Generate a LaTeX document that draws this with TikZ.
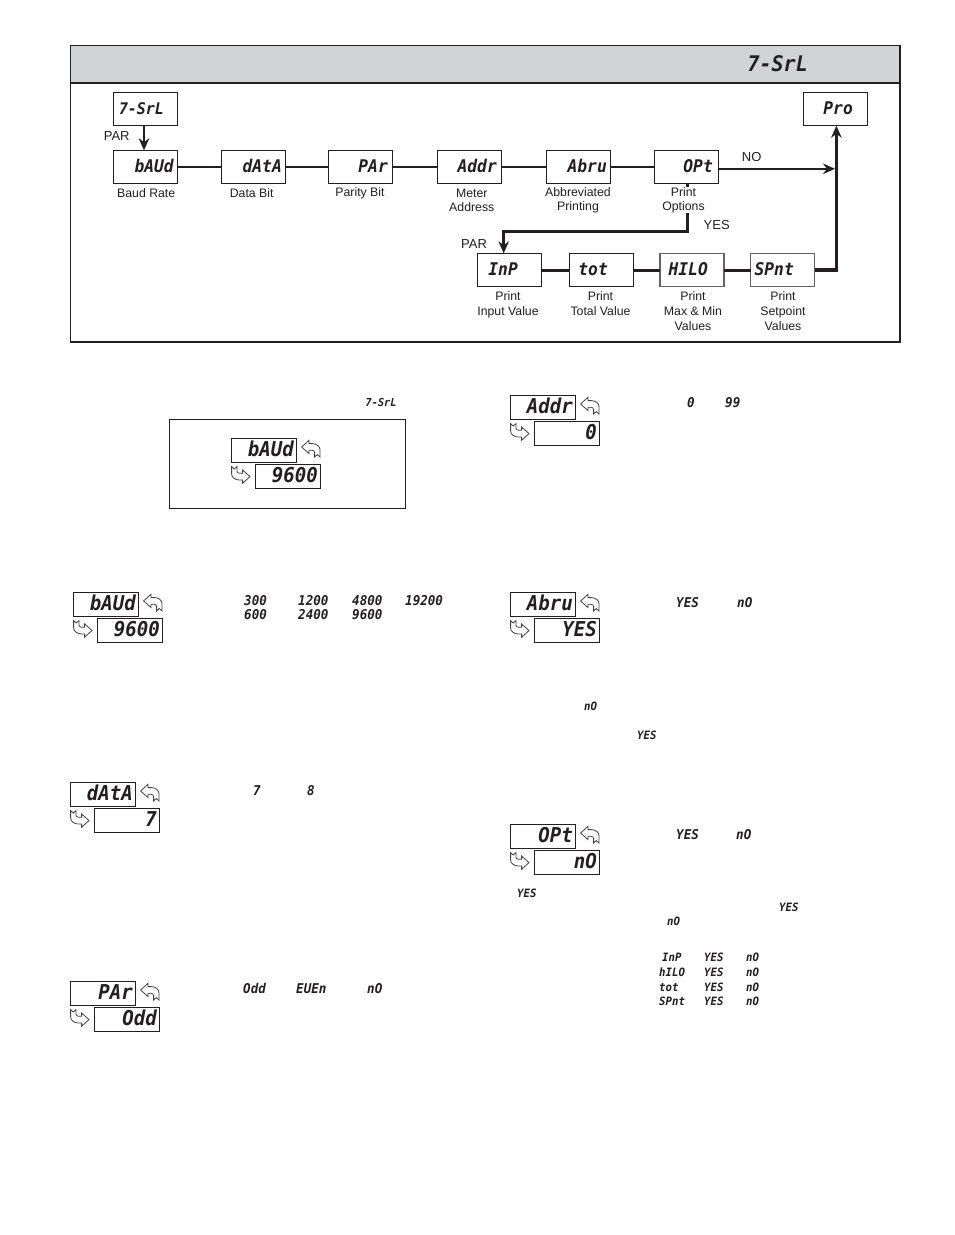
\documentclass[tikz,border=0pt]{standalone}
\usepackage{fontspec}
\setmainfont{Liberation Sans}
\newfontfamily\segbase[FakeStretch=0.93]{DejaVu Sans Mono}
\newcommand{\segfont}{\segbase\bfseries\itshape}
\usetikzlibrary{arrows.meta,calc}
\definecolor{hdr}{HTML}{D1D3D4}
\definecolor{ink}{HTML}{231F20}
\tikzset{
  flowbox/.style={draw=ink,line width=1pt,inner sep=0,outer sep=0,minimum width=64,minimum height=33.4,anchor=north west},
  flowgray/.style={flowbox,draw=ink!70,line width=1.2pt},
  dbox/.style={draw=ink,line width=1pt,inner sep=0,outer sep=0,minimum width=65.4,minimum height=24.3,anchor=north west},
  seghuge/.style={inner sep=0,text=ink,font=\fontsize{21.5}{21.5}\segfont},
  segbig/.style={inner sep=0,text=ink,anchor=base east,font=\fontsize{20.5}{20.5}\segfont},
  segflow/.style={inner sep=0,text=ink,anchor=base east,font=\fontsize{17.5}{17.5}\segfont},
  segmid/.style={inner sep=0,text=ink,anchor=base west,font=\fontsize{13.5}{13.5}\segfont},
  segsm/.style={inner sep=0,text=ink,anchor=base west,font=\fontsize{11.5}{11.5}\segfont},
  lbl/.style={inner sep=0.5,fill=white,text=ink,align=center,font=\fontsize{12.3}{14.3}\selectfont},
  lblb/.style={inner sep=0.5,text=ink,align=center,font=\fontsize{12.3}{15}\selectfont},
  tag/.style={inner sep=0,text=ink,font=\fontsize{13}{15}\selectfont},
  link/.style={draw=ink,line width=2.2pt},
  linkb/.style={draw=ink,line width=3pt},
  tip/.style={-{Stealth[length=12pt,width=10.5pt]}},
  keyicon/.style={draw=ink!85,line width=0.8pt,line join=miter}
}
\newcommand{\keyshape}{(-8.7,-1.3) -- (-1.3,-8) -- (-1.3,-4.7) -- (2,-4.7) .. controls (6,-4.7) and (9.7,-2) .. (9.7,1.3) -- (9.7,8.7) -- (7,6.3) -- (4.3,8.7) -- (4.3,4) .. controls (4.3,2.8) and (3,2) .. (1.5,2) -- (-1.3,2) -- (-1.3,5.3) -- cycle}
\newcommand{\dpair}[5]{%
  \node[dbox] (#1t) at (#2,#3) {};
  \node[segbig] (#1tt) at ($(#1t.north east)+(-2.6,18.6)$) {#4};
  \node[dbox] (#1b) at (#2+24,#3+26) {};
  \node[segbig] (#1bt) at ($(#1b.north east)+(-2.6,18.6)$) {#5};
  \draw[keyicon,shift={(#2+79,#3+10)}] \keyshape;
  \draw[keyicon,shift={(#2+10,#3+37)},rotate=180] \keyshape;
}
\begin{document}
\begin{tikzpicture}[x=1pt,y=-1pt]
\useasboundingbox (0,0) rectangle (954,1235);
\fill[white] (0,0) rectangle (954,1235);
% frame
\fill[hdr] (70.5,45.5) rectangle (900,82.7);
\draw[ink,line width=1.8pt] (70.5,45.5) rectangle (900,342);
\draw[ink,line width=2.4pt] (70.5,82.7) -- (900,82.7);
\node[seghuge,anchor=base east] (title) at (808,71) {7-SrL};
% flow boxes
\node[flowbox] (start) at (113.3,92.3) {};
\node[segflow,font=\fontsize{16}{16}\segfont] at (164,114) {7-SrL};
\node[flowbox] (baud) at (113.5,150.3) {};
\node[segflow] at (174,172.3) {bAUd};
\node[flowbox] (data) at (221,150.3) {};
\node[segflow] at (282,172.3) {dAtA};
\node[flowbox] (par) at (328,150.3) {};
\node[segflow] at (388,172.3) {PAr};
\node[flowbox] (addr) at (437.3,150.3) {};
\node[segflow] at (497,172.3) {Addr};
\node[flowbox] (abru) at (546,150.3) {};
\node[segflow] at (607,172.3) {Abru};
\node[flowbox] (opt) at (654.5,150.3) {};
\node[segflow] at (713,172.3) {OPt};
\node[flowbox] (pro) at (803.3,92.3) {};
\node[segflow] at (853,114.3) {Pro};
\node[flowbox] (inp) at (477.3,253.3) {};
\node[segflow] at (518,275) {InP};
\node[flowbox] (tot) at (569,253.3) {};
\node[segflow] at (608,275) {tot};
\node[flowgray] (hilo) at (660,253.3) {};
\node[segflow] at (708,275) {HILO};
\node[flowgray] (spnt) at (750.7,253.3) {};
\node[segflow] at (794,275) {SPnt};
% connectors
\coordinate (startx) at (144,0);
\coordinate (rail) at (836.4,269.9);
\coordinate (noend) at (835,168.8);
\coordinate (yesa) at (687,231.7);
\coordinate (yesb) at (503.7,231.7);
\draw[link] (baud) -- (data);
\draw[link] (data) -- (par);
\draw[link] (par) -- (addr);
\draw[link] (addr) -- (abru);
\draw[link] (abru) -- (opt);
\draw[link,tip] (start.south -| startx) -- (baud.north -| startx);
\draw[link,tip] (opt.east |- noend) -- (noend);
\draw[linkb] (inp) -- (tot);
\draw[linkb] (tot) -- (hilo);
\draw[linkb] (hilo) -- (spnt);
\draw[linkb,tip,line width=3.3pt] (spnt.east |- rail) -- (rail) -- (rail |- pro.south);
\draw[linkb,tip] (opt.south -| yesa) -- (yesa) -- (yesb) -- (yesb |- inp.north);
% labels
\node[lbl] at (146.2,192.7) {Baud Rate};
\node[lbl] at (251.7,192.7) {Data Bit};
\node[lbl] at (360,193.7) {Parity Bit};
\node[lbl] at (471.8,200) {Meter\\Address};
\node[lbl] at (578,200) {Abbreviated\\Printing};
\node[lbl] at (683.5,200) {Print\\Options};
\node[lblb] at (508,305) {Print\\Input Value};
\node[lblb] at (600.5,304) {Print\\Total Value};
\node[lblb] at (693,311) {Print\\Max \& Min\\Values};
\node[lblb] at (783,311) {Print\\Setpoint\\Values};
\node[tag] at (116.7,136) {PAR};
\node[tag] at (474,244) {PAR};
\node[tag] at (751.7,157) {NO};
\node[tag] at (716.7,225) {YES};
% central example
\node[segsm,font=\fontsize{11}{11}\segfont] at (365.5,406) {7-SrL};
\draw[ink,line width=1pt] (169.5,419.5) rectangle (405.3,508.7);
\dpair{ce}{231.3}{438.3}{bAUd}{9600}
% left column
\dpair{ba}{73.3}{592.2}{bAUd}{9600}
\dpair{da}{70.3}{782.3}{dAtA}{7}
\dpair{pa}{70.3}{981.3}{PAr}{Odd}
% right column
\dpair{ad}{510.3}{395.3}{Addr}{0}
\dpair{ab}{510.3}{592.3}{Abru}{YES}
\dpair{op}{510.3}{824.3}{OPt}{nO}
% baud values
\node[segmid] at (244,605) {300};
\node[segmid] at (298,605) {1200};
\node[segmid] at (352,605) {4800};
\node[segmid] at (405,605) {19200};
\node[segmid] at (244,619.3) {600};
\node[segmid] at (298,619.3) {2400};
\node[segmid] at (352,619.3) {9600};
% others
\node[segmid] at (253,795.7) {7};
\node[segmid] at (307,795.7) {8};
\node[segmid] at (243,993) {Odd};
\node[segmid] at (296,993) {EUEn};
\node[segmid] at (367,993) {nO};
\node[segmid] at (687,407) {0};
\node[segmid] at (725,407) {99};
\node[segmid] at (676,607.7) {YES};
\node[segmid] at (737,607.7) {nO};
\node[segsm] at (584,710) {nO};
\node[segsm] at (637,739) {YES};
\node[segmid] at (676,839.3) {YES};
\node[segmid] at (736,839.3) {nO};
\node[segsm] at (517,897.3) {YES};
\node[segsm] at (779,911.7) {YES};
\node[segsm] at (667,925.7) {nO};
\node[segsm] at (662,961) {InP};
\node[segsm] at (659,976.7) {hILO};
\node[segsm] at (659,991.7) {tot};
\node[segsm] at (659,1005.7) {SPnt};
\foreach \yy in {961,976.7,991.7,1005.7} {
  \node[segsm] at (704,\yy) {YES};
  \node[segsm] at (746,\yy) {nO};
}
\end{tikzpicture}
\end{document}
